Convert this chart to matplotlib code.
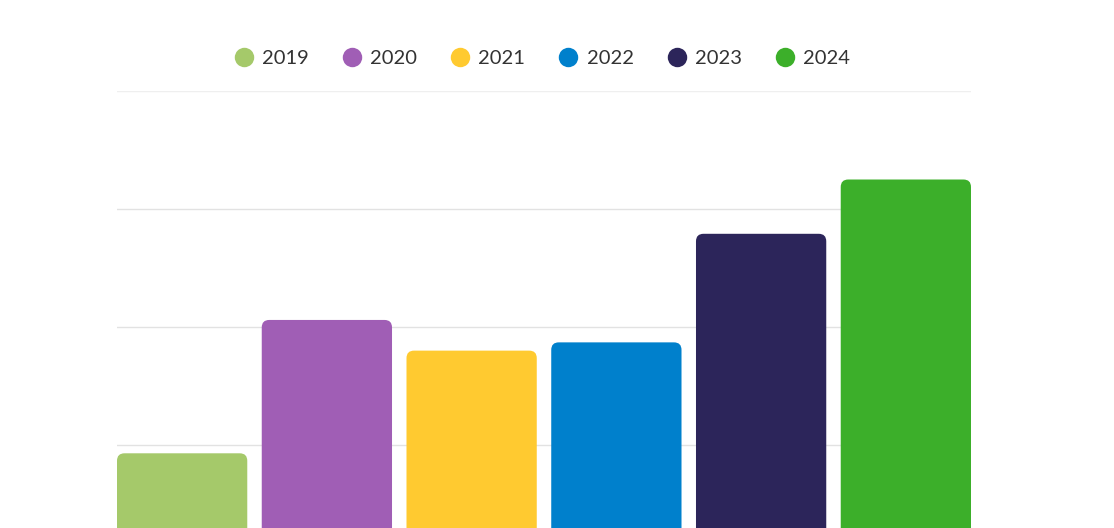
import matplotlib
matplotlib.use("Agg")
import matplotlib.pyplot as plt
from matplotlib.patches import FancyBboxPatch
from matplotlib.lines import Line2D

years = ["2019", "2020", "2021", "2022", "2023", "2024"]
values = [93, 206, 180, 187, 279, 325]
colors = ["#a5c96a", "#a05eb5", "#ffca30", "#0080cc", "#2c255a", "#3caf2a"]

plt.rcParams["font.family"] = ["Lato", "DejaVu Sans"]

W, H = 1114, 528
fig = plt.figure(figsize=(W / 100, H / 100), dpi=100)
ax = fig.add_axes([117 / W, 0, 854 / W, (528 - 91) / H])

ymin, ymax = 29.7, 400
ax.set_xlim(-0.45, len(years) - 0.55)
ax.set_ylim(ymin, ymax)

for y in [100, 200, 300]:
    ax.axhline(y, color="#e2e2e2", lw=1, zorder=0)
ax.axhline(400, color="#efefef", lw=1, zorder=0)

# rounded tops: bottom of each box sits below the visible area
px_x = 854 / (len(years) - 0.1)          # pixels per x unit
px_y = 437 / (ymax - ymin)               # pixels per y unit
r = 7.5 / px_x
for i, (v, c) in enumerate(zip(values, colors)):
    ax.add_patch(FancyBboxPatch((i - 0.45, ymin - 50), 0.9, v - ymin + 50,
                                boxstyle=f"round,pad=0,rounding_size={r}",
                                mutation_aspect=px_x / px_y,
                                fc=c, ec="none", zorder=2))

ax.axis("off")

handles = [Line2D([], [], marker="o", ls="none", ms=14, mfc=c, mec="none")
           for c in colors]
fig.legend(handles, years, loc="center", bbox_to_anchor=(543 / W, 1 - 58 / H),
           ncol=6, frameon=False, fontsize=14.5, labelcolor="#333333",
           handlelength=0.8, handletextpad=0.5, columnspacing=1.75)

fig.savefig("out.png", dpi=100)
